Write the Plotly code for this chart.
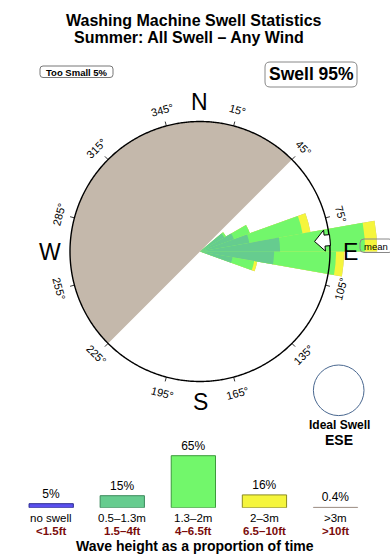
import numpy as np
import plotly.graph_objects as go

# ---------------- data ----------------
DIR_BINS = [55, 65, 75, 85, 95, 105]          # bin centres (deg), 10 deg wide
PCT_05_13 = [1.05, 1.74, 3.35, 8.58, 7.34, 1.46]   # 0.5-1.3m, % of time
PCT_13_2 = [0.16, 2.03, 11.15, 27.9, 17.4, 2.59]   # 1.3-2m
PCT_2_3 = [0.0, 0.0, 2.31, 5.5, 3.0, 0.46]         # 2-3m
PCT_3 = [0.0, 0.0, 0.0, 0.0, 0.0, 0.0]             # >3m
MEAN_DIR = 85
RING_PCT = 22.6
SHADOW_FROM, SHADOW_TO = 225, 45

DEG_LABELS = [15, 45, 75, 105, 135, 165, 195, 225, 255, 285, 315, 345]
COMPASS = ["N", "E", "S", "W"]
COMPASS_DEG = [0, 90, 180, 270]

LEG_LINE1 = ["no swell", "0.5–1.3m", "1.3–2m", "2–3m", ">3m"]
LEG_LINE2 = ["<1.5ft", "1.5–4ft", "4–6.5ft", "6.5–10ft", ">10ft"]
LEG_PCT = [5, 15, 65, 16, 0.4]
LEG_TXT = ["5%", "15%", "65%", "16%", "0.4%"]

# ---------------- styling / geometry ----------------
W, H = 390, 560
FONT = "Liberation Sans, Arial, Helvetica, sans-serif"
C_TEAL, C_GREEN, C_YEL, C_BIG, C_BLUE = "#66cc8f", "#72f76b", "#f5f53c", "#b8aaa0", "#5a50f0"
C_SHADOW = "#c4b8ab"
DARKRED = "#7a0c0c"

CX, CY, PR = 200.0, 251.5, 185.0     # polar centre / domain radius in px
RING_PX = 130.0
K = RING_PX / np.sqrt(RING_PCT)      # px per sqrt(%)  (area-proportional rose)
RMAX = PR / K
RING_R = np.sqrt(RING_PCT)


def fx(x):
    return x / W


def fy(y):
    return 1 - y / H


t = np.array(PCT_05_13)
g = np.array(PCT_13_2)
yv = np.array(PCT_2_3)
b = np.array(PCT_3)
cum_teal = np.sqrt(t)
cum_green = np.sqrt(t + g)
cum_yel = np.sqrt(t + g + yv)
cum_big = np.sqrt(t + g + yv + b)

fig = go.Figure()

# land shadow half disk
span = (SHADOW_TO - SHADOW_FROM) % 360
fig.add_trace(go.Barpolar(theta=[SHADOW_FROM + span / 2], r=[RING_R], width=[span],
                          marker=dict(color=C_SHADOW, line=dict(width=0)),
                          hoverinfo="skip", showlegend=False))
for rr, col in [(cum_big, C_BIG), (cum_yel, C_YEL), (cum_green, C_GREEN), (cum_teal, C_TEAL)]:
    fig.add_trace(go.Barpolar(theta=DIR_BINS, r=rr, width=[10] * len(DIR_BINS),
                              marker=dict(color=col, line=dict(width=0)),
                              hoverinfo="skip", showlegend=False))

# ring
th = np.linspace(0, 360, 721)
fig.add_trace(go.Scatterpolar(theta=th, r=[RING_R] * len(th), mode="lines",
                              line=dict(color="black", width=1.4),
                              hoverinfo="skip", showlegend=False))
# ticks
tt, tr = [], []
for a in DEG_LABELS:
    tt += [a, a, None]
    tr += [RING_R, (RING_PX + 4.5) / K, None]
fig.add_trace(go.Scatterpolar(theta=tt, r=tr, mode="lines",
                              line=dict(color="black", width=0.8),
                              hoverinfo="skip", showlegend=False))

# mean arrow (local coords: u radial outward px, v clockwise px)
arrow_uv = [(-15, 0), (-5, -10.5), (-5, -5.5), (0.5, -5.5), (0.5, 5.5), (-5, 5.5), (-5, 10.5), (-15, 0)]
at, ar = [], []
for u, v in arrow_uv:
    R = RING_PX + u
    ar.append(np.hypot(R, v) / K)
    at.append(MEAN_DIR + np.degrees(np.arctan2(v, R)))
fig.add_trace(go.Scatterpolar(theta=at, r=ar, mode="lines", fill="toself",
                              fillcolor="white", line=dict(color="black", width=1),
                              hoverinfo="skip", showlegend=False))

# legend bars
leg_cols = [C_BLUE, C_TEAL, C_GREEN, C_YEL, C_BIG]
leg_line = ["#2a2a90", "#3c8a5c", "#3c9a3c", "#8a8a20", "#9a8a80"]
fig.add_trace(go.Bar(x=list(range(5)), y=LEG_PCT, width=0.623,
                     marker=dict(color=leg_cols, line=dict(color=leg_line, width=1)),
                     text=LEG_TXT, textposition="outside", cliponaxis=False,
                     textfont=dict(size=12, color="black", family=FONT),
                     hoverinfo="skip", showlegend=False, xaxis="x", yaxis="y"))

ann = []
# titles
ann.append(dict(x=fx(194), y=fy(20.5), text="<b>Washing Machine Swell Statistics</b>",
                font=dict(size=16, family=FONT, color="black")))
ann.append(dict(x=fx(189), y=fy(37.5), text="<b>Summer: All Swell – Any Wind</b>",
                font=dict(size=16, family=FONT, color="black")))
ann.append(dict(x=fx(76.5), y=fy(72), text="<b>Too Small 5%</b>",
                font=dict(size=9.5, family=FONT, color="black")))
ann.append(dict(x=fx(311), y=fy(74.5), text="<b>Swell 95%</b>",
                font=dict(size=17.5, family=FONT, color="black")))
ann.append(dict(x=fx(376), y=fy(246), text="mean",
                font=dict(size=9.5, family=FONT, color="black")))

# degree labels
for a in DEG_LABELS:
    rad = np.radians(a)
    x = CX + 146 * np.sin(rad)
    y = CY - 146 * np.cos(rad)
    if a <= 90:
        rot = a
    elif a < 270:
        rot = a - 180
    else:
        rot = a - 360
    ann.append(dict(x=fx(x), y=fy(y), text=f"{a}°", textangle=rot,
                    font=dict(size=11, family=FONT, color="black")))
for lab, a in zip(COMPASS, COMPASS_DEG):
    rad = np.radians(a)
    x = CX + 150 * np.sin(rad)
    y = CY - 150 * np.cos(rad)
    ann.append(dict(x=fx(x), y=fy(y), text=lab, font=dict(size=23, family=FONT, color="black")))

# ideal swell
ann.append(dict(x=fx(339), y=fy(425), text="<b>Ideal Swell</b>",
                font=dict(size=12, family=FONT, color="black")))
ann.append(dict(x=fx(339), y=fy(440), text="<b>ESE</b>",
                font=dict(size=14, family=FONT, color="black")))

# legend labels
X0, DX = 51.2, 71.08
for i, (l1, l2) in enumerate(zip(LEG_LINE1, LEG_LINE2)):
    xc = X0 + DX * i
    ann.append(dict(x=fx(xc), y=fy(517.5), text=l1.replace("<", "&lt;").replace(">", "&gt;"),
                    font=dict(size=11.5, family=FONT, color="black")))
    ann.append(dict(x=fx(xc), y=fy(530.5), text="<b>" + l2.replace("<", "&lt;").replace(">", "&gt;") + "</b>",
                    font=dict(size=11.5, family=FONT, color=DARKRED)))
ann.append(dict(x=fx(194.5), y=fy(545.5), text="<b>Wave height as a proportion of time</b>",
                font=dict(size=14, family=FONT, color="black")))

for a in ann:
    a.update(xref="paper", yref="paper", showarrow=False, xanchor="center", yanchor="middle")


def rrect(x0, y0, x1, y1, r):
    X0_, X1_ = fx(x0), fx(x1)
    Y0_, Y1_ = fy(y0), fy(y1)
    rx, ry = r / W, r / H
    return (f"M {X0_+rx},{Y0_} L {X1_-rx},{Y0_} Q {X1_},{Y0_} {X1_},{Y0_-ry} "
            f"L {X1_},{Y1_+ry} Q {X1_},{Y1_} {X1_-rx},{Y1_} L {X0_+rx},{Y1_} "
            f"Q {X0_},{Y1_} {X0_},{Y1_+ry} L {X0_},{Y0_-ry} Q {X0_},{Y0_} {X0_+rx},{Y0_} Z")


shapes = [
    dict(type="path", path=rrect(40, 66, 113, 77.5, 3), line=dict(color="#777", width=1)),
    dict(type="path", path=rrect(265, 62, 357, 87, 5), line=dict(color="#888", width=1)),
    dict(type="path", path=rrect(360, 239, 393, 252.5, 4), line=dict(color="#888", width=1)),
    dict(type="circle", x0=fx(313.4), x1=fx(364), y0=fy(365), y1=fy(415.6),
         line=dict(color="#4a6890", width=1)),
]
for s in shapes:
    s.update(xref="paper", yref="paper")

fig.update_layout(
    width=W, height=H, autosize=False,
    margin=dict(l=0, r=0, t=0, b=0),
    paper_bgcolor="white", plot_bgcolor="rgba(0,0,0,0)",
    showlegend=False,
    polar=dict(
        domain=dict(x=[fx(CX - PR), fx(CX + PR)], y=[fy(CY + PR), fy(CY - PR)]),
        bgcolor="rgba(0,0,0,0)",
        barmode="overlay", bargap=0,
        radialaxis=dict(range=[0, RMAX], visible=False, showgrid=False),
        angularaxis=dict(rotation=90, direction="clockwise", visible=False, showgrid=False),
    ),
    xaxis=dict(domain=[0, 1], range=[-X0 / DX, -X0 / DX + W / DX], visible=False, fixedrange=True),
    yaxis=dict(domain=[fy(507.7), fy(427.7)], range=[0, 100], visible=False, fixedrange=True),
    annotations=ann, shapes=shapes,
)

fig.write_html("out.html")
